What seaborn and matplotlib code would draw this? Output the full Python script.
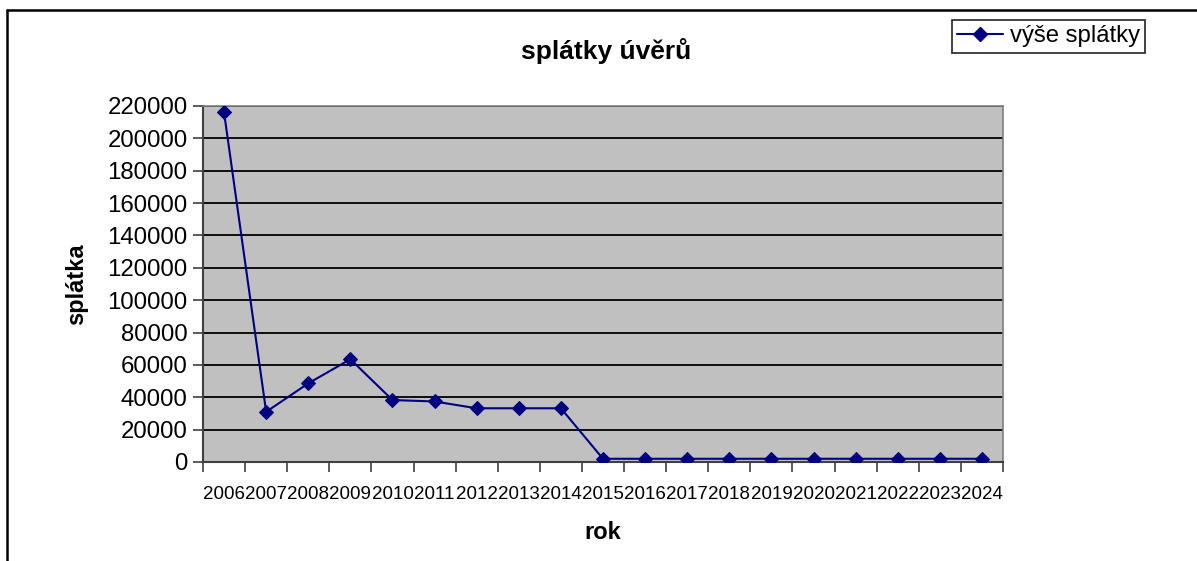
import matplotlib
matplotlib.use("Agg")
import matplotlib.pyplot as plt
from matplotlib.lines import Line2D
from matplotlib.ticker import FixedLocator, NullFormatter, FixedFormatter
import seaborn as sns
import pandas as pd

years = ["2006", "2007", "2008", "2009", "2010", "2011", "2012", "2013", "2014", "2015",
         "2016", "2017", "2018", "2019", "2020", "2021", "2022", "2023", "2024"]
payments = [216000, 31000, 48600, 63500, 38300, 37400, 33200, 33200, 33200, 2000,
            2000, 2000, 2000, 2000, 2000, 2000, 2000, 2000, 2000]
y_ticks = list(range(0, 220001, 20000))

sns.set_theme(style="white")
plt.rcParams["font.family"] = ["Liberation Sans", "DejaVu Sans"]
plt.rcParams["text.color"] = "black"
plt.rcParams["axes.labelcolor"] = "black"
plt.rcParams["xtick.color"] = "black"
plt.rcParams["ytick.color"] = "black"

W, H = 1197, 561
fig = plt.figure(figsize=(W / 100, H / 100), dpi=100)
ax = fig.add_axes([203 / W, 1 - 462 / H, 800 / W, 356 / H])
ax.set_facecolor("#c0c0c0")

df = pd.DataFrame({"pos": list(range(len(years))), "value": payments})
sns.lineplot(data=df, x="pos", y="value", ax=ax, color="#000080", linewidth=1.5,
             marker="D", markersize=7.5, markeredgecolor="#000080",
             legend=False, zorder=3)

ax.set_xlim(-0.5, len(years) - 0.5)
ax.set_ylim(0, 220000)
ax.set_yticks(y_ticks)
ax.set_yticklabels([str(v) for v in y_ticks], fontsize=17.3)
ax.yaxis.grid(True, color="black", linewidth=1.3)
ax.set_axisbelow(True)

ax.xaxis.set_major_locator(FixedLocator([i - 0.5 for i in range(len(years) + 1)]))
ax.xaxis.set_major_formatter(NullFormatter())
ax.xaxis.set_minor_locator(FixedLocator(list(range(len(years)))))
ax.xaxis.set_minor_formatter(FixedFormatter(years))
ax.tick_params(axis="x", which="major", direction="out", length=7, width=1.2, color="#404040", bottom=True)
ax.tick_params(axis="x", which="minor", length=0, labelsize=13.5, pad=17, bottom=True)
ax.tick_params(axis="y", direction="out", length=7, width=1.2, color="#404040", left=True, pad=4)

for s in ["left", "bottom"]:
    ax.spines[s].set_color("#404040")
    ax.spines[s].set_linewidth(1.5)
for s in ["top", "right"]:
    ax.spines[s].set_color("#808080")
    ax.spines[s].set_linewidth(1.2)

ax.set_xlabel("rok", fontsize=17, fontweight="bold", labelpad=13)
ax.set_ylabel("splátka", fontsize=17, fontweight="bold", labelpad=14)
fig.text(606 / W, 1 - 51 / H, "splátky úvěrů", fontsize=19, fontweight="bold",
         ha="center", va="center")

handle = Line2D([], [], color="#000080", linewidth=1.5, marker="D", markersize=7.5)
leg = fig.legend([handle], ["výše splátky"], loc="upper left",
                 bbox_to_anchor=(952 / W, 1 - 20 / H), borderaxespad=0,
                 fontsize=17.2, frameon=True, fancybox=False, handlelength=1.9,
                 handletextpad=0.3, borderpad=0.22)
leg.get_frame().set_edgecolor("black")
leg.get_frame().set_linewidth(1.3)

# figure border
fig.add_artist(Line2D([7 / W, 1], [1 - 10 / H, 1 - 10 / H], color="black", linewidth=1.8,
                      transform=fig.transFigure))
fig.add_artist(Line2D([7 / W, 7 / W], [0, 1 - 10 / H], color="black", linewidth=1.8,
                      transform=fig.transFigure))

fig.savefig("out.png", dpi=100)
